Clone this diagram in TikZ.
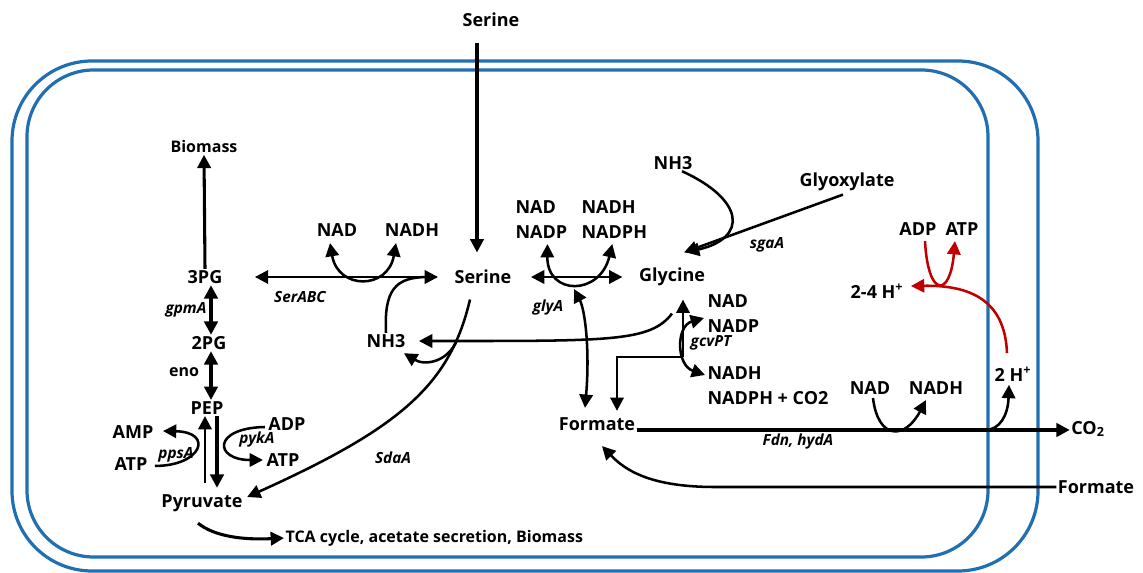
\documentclass[tikz,border=0pt]{standalone}
\usepackage{fontspec}
\setmainfont{Open Sans}
\usetikzlibrary{arrows.meta,calc}
\definecolor{memblue}{RGB}{31,111,178}
\definecolor{atpred}{RGB}{192,0,0}
\begin{document}
\begin{tikzpicture}[x=0.75pt,y=-0.75pt,
  >={Triangle[length=10pt,width=10pt]},
  lbl/.style={font=\bfseries\fontsize{13.5}{15}\selectfont, inner sep=1pt},
  sml/.style={font=\bfseries\fontsize{12}{13}\selectfont, inner sep=1pt},
  gene/.style={font=\bfseries\itshape\fontsize{11.5}{12}\selectfont, inner sep=1pt},
  mem/.style={draw=memblue, line width=2.4pt},
  ln/.style={line width=1.9pt},
  arr/.style={ln,->},
  darr/.style={ln,<->},
  fat/.style={line width=3pt},
  redarr/.style={ln,->,draw=atpred}]
\useasboundingbox (0,0) rectangle (1143,573);
% membranes
\draw[mem, rounded corners=60pt] (12,61) rectangle (1038,571);
\draw[mem, rounded corners=50pt] (27,70) rectangle (988,557);
% nodes
\node[lbl] (serOut) at (491,20) {Serine};
\node[lbl] (ser) at (483,277) {Serine};
\node[sml] (bio) at (204,147) {Biomass};
\node[lbl] (p3) at (205,277) {3PG};
\node[lbl] (p2) at (209,343) {2PG};
\node[lbl] (pep) at (207,408) {PEP};
\node[lbl] (pyr) at (202,503) {Pyruvate};
\node[gene] (gpmA) at (186,310) {gpmA};
\node[sml] (eno) at (184,372) {eno};
\node[lbl] (amp) at (133,432) {AMP};
\node[lbl] (atpL) at (131,464) {ATP};
\node[gene] (ppsA) at (176,455) {ppsA};
\node[lbl] (adp) at (287,424) {ADP};
\node[lbl] (atpR) at (283,460) {ATP};
\node[gene] (pykA) at (257,440) {pykA};
\node[sml,anchor=west] (tca) at (284,538) {TCA cycle, acetate secretion, Biomass};
\node[lbl] (nadA) at (337,230) {NAD};
\node[lbl] (nadhA) at (412,230) {NADH};
\node[gene] (serABC) at (300,297) {SerABC};
\node[lbl] (nh3A) at (386,341) {NH3};
\node[gene] (sdaA) at (393,458) {SdaA};
\node[lbl,anchor=west] (nadB) at (514,207) {NAD};
\node[lbl,anchor=west] (nadpB) at (514,232) {NADP};
\node[lbl,anchor=west] (nadhB) at (580,207) {NADH};
\node[lbl,anchor=west] (nadphB) at (580,232) {NADPH};
\node[gene] (glyA) at (548,308) {glyA};
\node[lbl] (gly) at (672,277) {Glycine};
\node[lbl] (nh3B) at (673,163) {NH3};
\node[lbl] (glyox) at (847,182) {Glyoxylate};
\node[gene] (sgaA) at (767,245) {sgaA};
\node[lbl,anchor=west] (nadC) at (706,301) {NAD};
\node[lbl,anchor=west] (nadpC) at (706,326) {NADP};
\node[lbl,anchor=west] (nadhC) at (706,373) {NADH};
\node[lbl,anchor=west] (nadphC) at (706,398) {NADPH + CO2};
\node[gene] (gcvPT) at (711,343) {gcvPT};
\node[lbl] (form) at (597,424) {Formate};
\node[gene] (fdn) at (798,442) {Fdn, hydA};
\node[lbl] (nadD) at (870,388) {NAD};
\node[lbl] (nadhD) at (936,388) {NADH};
\node[lbl] (h2) at (1013,374) {2 H\textsuperscript{+}};
\node[lbl] (co2) at (1088,429) {CO\textsubscript{2}};
\node[lbl] (formOut) at (1096,487) {Formate};
\node[lbl] (adpE) at (918,229) {ADP};
\node[lbl] (atpE) at (962,229) {ATP};
\node[lbl] (h24) at (877,291) {2-4 H\textsuperscript{+}};
% helper coordinates
\coordinate (xs) at (477,0);
\coordinate (xA) at (211,0);
\coordinate (xU) at (205,0);
\coordinate (xD) at (217,0);
\coordinate (gcvJ) at (683,357);
\coordinate (fy) at (0,430);
% connectors
\draw[arr,line width=2.3pt] ($(serOut.south -| xs)+(0,14)$) -- ($(ser.north -| xs)+(0,-16)$);
\draw[arr,line width=2.3pt] (p3.north) -- (bio.south);
\draw[darr,fat] (p3.south -| xA) -- (p2.north -| xA);
\draw[darr,fat] (p2.south -| xA) -- (pep.north -| xA);
\draw[arr] ($(pyr.north -| xU)+(0,-10)$) -- (pep.south -| xU);
\draw[arr,fat] (pep.south -| xD) -- ($(pyr.north -| xD)+(0,-5)$);
\draw[arr] ($(ppsA.south west)+(-2,2)$) .. controls (202,466) and (214,432) .. ($(amp.east)+(8,-1)$);
\draw[arr] ($(adp.west)+(-2,3)$) .. controls (212,428) and (214,460) .. ($(atpR.west)+(-2,0)$);
\draw[arr,line width=2.3pt] ($(pyr.south)+(-4,10)$) .. controls (215,537) and (245,540) .. (tca.west);
\draw[darr] ($(p3.east)+(31,0)$) -- ($(ser.west)+(-15,0)$);
\draw[darr] ($(nadA.south)+(-7,5)$) .. controls (338,290) and (388,290) .. ($(nadhA.south)+(-16,5)$);
\draw[ln] (nh3A.north) .. controls (384,290) and (395,277) .. (428,277);
\draw[arr] ($(gly.south)+(0,26)$) .. controls (650,342) and (610,341) .. ($(nh3A.east)+(12,0)$);
\draw[arr] ($(ser.south)+(-13,14)$) .. controls (450,385) and (400,428) .. ($(pyr.east)+(3,-6)$);
\draw[arr] (457,340) .. controls (448,362) and (425,366) .. ($(nh3A.south east)+(-3,4)$);
\draw[darr] ($(ser.east)+(18,0)$) -- ($(gly.west)+(-15,0)$);
\draw[darr] ($(nadpB.south)+(6,4)$) .. controls (547,296) and (600,296) .. ($(nadphB.south)+(-2,4)$);
\draw[darr] ($(form.north)+(-12,-8)$) .. controls (590,350) and (585,310) .. (574,289);
\draw[arr] (gcvJ) -| ($(form.north)+(20,-5)$);
\draw[arr] (gcvJ) -- ($(gly.south -| gcvJ)+(0,12)$);
\draw[darr] ($(nadpC.west)+(-2,-8)$) .. controls (676,326) and (676,365) .. ($(nadhC.west)+(-1,2)$);
\draw[arr] ($(glyox.south)+(-4,2)$) -- ($(gly.north)+(12,-14)$);
\draw[arr] ($(nh3B.south)+(9,0)$) .. controls (745,200) and (748,238) .. ($(gly.north)+(14,-14)$);
\draw[arr,line width=2.4pt] (form.east |- fy) -- (co2.west |- fy);
\draw[arr] ($(nadD.south)+(3,2)$) .. controls (878,440) and (905,440) .. ($(nadhD.south)+(-10,4)$);
\draw[arr] (985,430) .. controls (1000,430) and (1008,415) .. ($(h2.south)+(-4,2)$);
\draw[redarr] ($(h2.north)+(-6,-12)$) .. controls (1005,300) and (970,285) .. ($(h24.east)+(6,-5)$);
\draw[redarr] ($(adpE.south)+(7,4)$) .. controls (928,298) and (950,298) .. ($(atpE.south)+(-7,4)$);
\draw[arr] (formOut.west) -- (715,487) .. controls (650,487) and (625,470) .. ($(form.south)+(5,14)$);
\end{tikzpicture}
\end{document}
